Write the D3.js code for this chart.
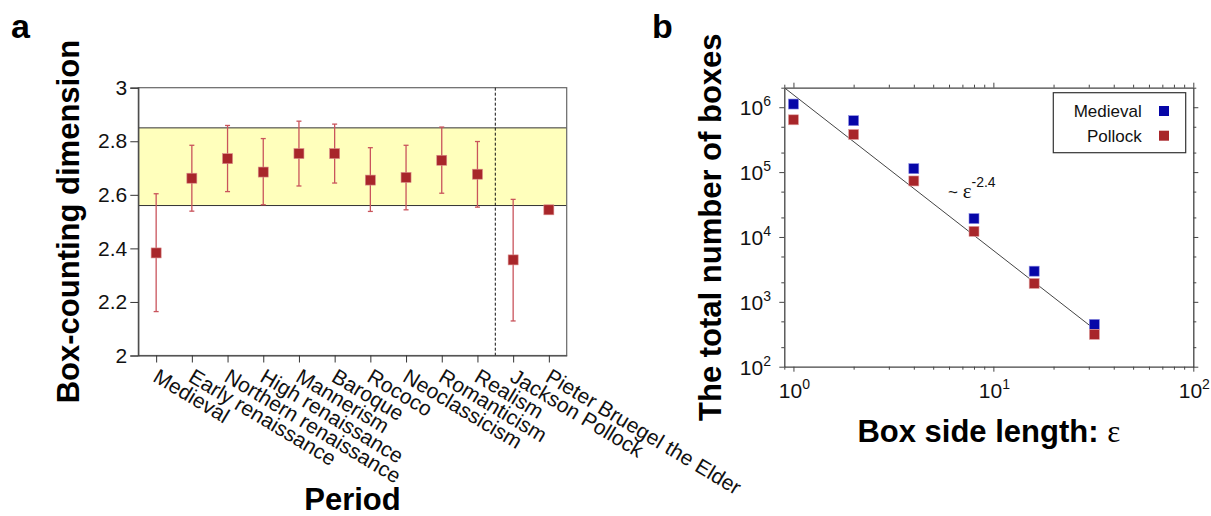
<!DOCTYPE html>
<html>
<head>
<meta charset="utf-8">
<title>Box-counting dimension</title>
<style>
  body { margin: 0; background: #fff; }
  text { font-family: "Liberation Sans", Arial, Helvetica, sans-serif; }
</style>
</head>
<body>
<svg id="chart" width="1211" height="516"></svg>
<script src="https://d3js.org/d3.v7.min.js"></script>
<script>
// ---- panel a data ----
var periods = ["Medieval", "Early renaissance", "Northern renaissance", "High renaissance",
  "Mannerism", "Baroque", "Rococo", "Neoclassicism", "Romanticism", "Realism",
  "Jackson Pollock", "Pieter Bruegel the Elder"];
var dimMean = [2.383, 2.662, 2.735, 2.685, 2.754, 2.754, 2.655, 2.665, 2.729, 2.677, 2.357, 2.544];
var dimLow  = [2.164, 2.539, 2.612, 2.563, 2.633, 2.644, 2.538, 2.544, 2.606, 2.554, 2.129, 2.534];
var dimHigh = [2.604, 2.785, 2.859, 2.810, 2.875, 2.864, 2.776, 2.785, 2.853, 2.799, 2.583, 2.556];
var bandRange = [2.56, 2.85];
var dimTicks = [2, 2.2, 2.4, 2.6, 2.8, 3];
var dividerAfter = "Realism";

// ---- panel b data ----
var boxSizes = [1, 2, 4, 8, 16, 32];
var medievalCounts = [1.12e6, 6.2e5, 1.13e5, 1.92e4, 2.97e3, 449];
var pollockCounts = [6.4e5, 3.8e5, 7.3e4, 1.22e4, 1.92e3, 315];
var fitEps = [0.9, 32];
var fitCounts = [2.0e6, 380];
var epsMajor = [1, 10, 100];
var epsMinor = [0.9, 2, 3, 4, 5, 6, 7, 8, 9, 20, 30, 40, 50, 60, 70, 80, 90];
var countMajor = [1e2, 1e3, 1e4, 1e5, 1e6];
var countMinor = [2e2, 5e2, 2e3, 5e3, 2e4, 5e4, 2e5, 5e5, 2e6];

var red = "#a8262a", errRed = "#c9545c", blue = "#0606a8";
var svg = d3.select("#chart");

// ================= panel a =================
var a = { left: 138.3, right: 566.7, top: 87.7, bottom: 355.5 };
var xA = d3.scalePoint().domain(periods).range([a.left, a.right]).padding(0.5);
var yA = d3.scaleLinear().domain([2, 3]).range([a.bottom, a.top]);

var gA = svg.append("g");
gA.append("rect")
  .attr("x", a.left).attr("width", a.right - a.left)
  .attr("y", yA(bandRange[1])).attr("height", yA(bandRange[0]) - yA(bandRange[1]))
  .attr("fill", "#ffffbc");
bandRange.forEach(function (v) {
  gA.append("line").attr("x1", a.left).attr("x2", a.right)
    .attr("y1", yA(v)).attr("y2", yA(v)).attr("stroke", "#333").attr("stroke-width", 1);
});
gA.append("rect").attr("x", a.left).attr("y", a.top)
  .attr("width", a.right - a.left).attr("height", a.bottom - a.top)
  .attr("fill", "none").attr("stroke", "#666").attr("stroke-width", 1.2);

var iDiv = periods.indexOf(dividerAfter);
var xDiv = (xA(periods[iDiv]) + xA(periods[iDiv + 1])) / 2;
gA.append("line").attr("x1", xDiv).attr("x2", xDiv).attr("y1", a.top).attr("y2", a.bottom)
  .attr("stroke", "#111").attr("stroke-dasharray", "3,2").attr("stroke-width", 1);

var pts = periods.map(function (p, i) {
  return { p: p, m: dimMean[i], lo: dimLow[i], hi: dimHigh[i] };
});
var eb = gA.append("g").attr("stroke", errRed).attr("stroke-width", 1.3);
pts.forEach(function (d) {
  var x = xA(d.p);
  eb.append("line").attr("x1", x).attr("x2", x).attr("y1", yA(d.lo)).attr("y2", yA(d.hi));
  eb.append("line").attr("x1", x - 2.5).attr("x2", x + 2.5).attr("y1", yA(d.lo)).attr("y2", yA(d.lo));
  eb.append("line").attr("x1", x - 2.5).attr("x2", x + 2.5).attr("y1", yA(d.hi)).attr("y2", yA(d.hi));
});
gA.selectAll("rect.mk").data(pts).enter().append("rect").attr("class", "mk")
  .attr("x", function (d) { return xA(d.p) - 5; })
  .attr("y", function (d) { return yA(d.m) - 5; })
  .attr("width", 10).attr("height", 10)
  .attr("fill", red).attr("stroke", "#d98a8a").attr("stroke-width", 0.6);

var axYA = gA.append("g").attr("transform", "translate(" + a.left + ",0)")
  .call(d3.axisLeft(yA).tickValues(dimTicks).tickSize(8).tickPadding(3).tickFormat(d3.format("")));
var axXA = gA.append("g").attr("transform", "translate(0," + a.bottom + ")")
  .call(d3.axisBottom(xA).tickSize(7).tickSizeOuter(0));
[axYA, axXA].forEach(function (ax) {
  ax.select(".domain").attr("stroke", "#444").attr("stroke-width", 1.2);
  ax.selectAll(".tick line").attr("stroke", "#333");
  ax.selectAll("text").attr("font-size", 21).attr("fill", "#111")
    .style("font-family", "'Liberation Sans', Arial, sans-serif");
});
axXA.selectAll("text")
  .attr("x", 0).attr("y", 0).attr("dy", 0)
  .attr("text-anchor", "start")
  .attr("transform", "translate(-5,25) rotate(31)");

gA.append("text").attr("transform", "translate(79," + (a.top + a.bottom) / 2 + ") rotate(-90)")
  .attr("text-anchor", "middle").attr("font-size", 31).attr("font-weight", "bold")
  .text("Box-counting dimension");
gA.append("text").attr("x", (a.left + a.right) / 2).attr("y", 510)
  .attr("text-anchor", "middle").attr("font-size", 31).attr("font-weight", "bold")
  .text("Period");
gA.append("text").attr("x", 11).attr("y", 38).attr("font-size", 34).attr("font-weight", "bold").text("a");

// ================= panel b =================
var b = { left: 784.3, right: 1193.3, top: 87.7, bottom: 366.7 };
var xB = d3.scaleLog().domain([0.9, 100]).range([b.left, b.right]);
var yB = d3.scaleLog().domain([100, 2e6]).range([b.bottom, b.top]);
var gB = svg.append("g");

function logAxis(axisFn, scale, tr, major, minor) {
  var g = gB.append("g").attr("transform", tr);
  g.call(axisFn(scale).tickValues(major).tickSize(5).tickSizeOuter(0).tickFormat(""));
  g.append("g").call(axisFn(scale).tickValues(minor).tickSize(3).tickSizeOuter(0).tickFormat(""))
    .select(".domain").remove();
  g.selectAll(".domain").attr("stroke", "#444").attr("stroke-width", 1.3);
  g.selectAll(".tick line").attr("stroke", "#444");
  return g;
}
logAxis(d3.axisBottom, xB, "translate(0," + b.bottom + ")", epsMajor, epsMinor);
logAxis(d3.axisTop, xB, "translate(0," + b.top + ")", epsMajor, epsMinor);
logAxis(d3.axisLeft, yB, "translate(" + b.left + ",0)", countMajor, countMinor);
logAxis(d3.axisRight, yB, "translate(" + b.right + ",0)", countMajor, countMinor);

function powLabel(g, x, y, anchor, v) {
  var t = g.append("text").attr("x", x).attr("y", y).attr("text-anchor", anchor)
    .attr("font-size", 21).attr("fill", "#111");
  t.append("tspan").text("10");
  t.append("tspan").attr("font-size", 14).attr("dy", -9).text(Math.round(Math.log10(v)));
}
epsMajor.forEach(function (v) { powLabel(gB, xB(v) + 1, 398, "middle", v); });
countMajor.forEach(function (v) { powLabel(gB, 771, yB(v) + 8, "end", v); });

var fitData = fitEps.map(function (e, i) { return [e, fitCounts[i]]; });
gB.append("path")
  .attr("d", d3.line().x(function (d) { return xB(d[0]); }).y(function (d) { return yB(d[1]); })(fitData))
  .attr("fill", "none").attr("stroke", "#444").attr("stroke-width", 1);

var series = [
  { name: "Medieval", color: blue, edge: "#8a8ae0", values: medievalCounts },
  { name: "Pollock", color: red, edge: "#e0a0a0", values: pollockCounts }
];
series.forEach(function (s) {
  gB.selectAll(null).data(boxSizes).enter().append("rect")
    .attr("x", function (d) { return xB(d) - 5; })
    .attr("y", function (d, i) { return yB(s.values[i]) - 5; })
    .attr("width", 10).attr("height", 10)
    .attr("fill", s.color).attr("stroke", s.edge).attr("stroke-width", 0.6);
});

var ann = gB.append("text").attr("x", 948).attr("y", 198).attr("font-size", 17).attr("fill", "#111");
ann.append("tspan").text("~ ");
ann.append("tspan").style("font-family", "'Liberation Serif', 'Times New Roman', serif").attr("font-size", 21).text("ε");
ann.append("tspan").attr("font-size", 14).attr("dy", -11).text("-2.4");

var leg = gB.append("g");
leg.append("rect").attr("x", 1053.3).attr("y", 92.7).attr("width", 132.4).attr("height", 60)
  .attr("fill", "#fff").attr("stroke", "#333").attr("stroke-width", 1.2);
series.forEach(function (s, i) {
  leg.append("text").attr("x", 1141.7).attr("y", 116.7 + i * 25).attr("text-anchor", "end")
    .attr("font-size", 17).attr("fill", "#111").text(s.name);
  leg.append("rect").attr("x", 1159).attr("y", 106 + i * 24.7).attr("width", 10).attr("height", 10)
    .attr("fill", s.color);
});

gB.append("text").attr("transform", "translate(721," + (b.top + b.bottom) / 2 + ") rotate(-90)")
  .attr("text-anchor", "middle").attr("font-size", 31).attr("font-weight", "bold")
  .text("The total number of boxes");
var xt = gB.append("text").attr("x", (b.left + b.right) / 2).attr("y", 442)
  .attr("text-anchor", "middle").attr("font-size", 31).attr("font-weight", "bold");
xt.append("tspan").text("Box side length: ");
xt.append("tspan").attr("font-weight", "normal")
  .style("font-family", "'Liberation Serif', 'Times New Roman', serif").text("ε");
gB.append("text").attr("x", 652).attr("y", 38).attr("font-size", 34).attr("font-weight", "bold").text("b");
</script>
</body>
</html>
